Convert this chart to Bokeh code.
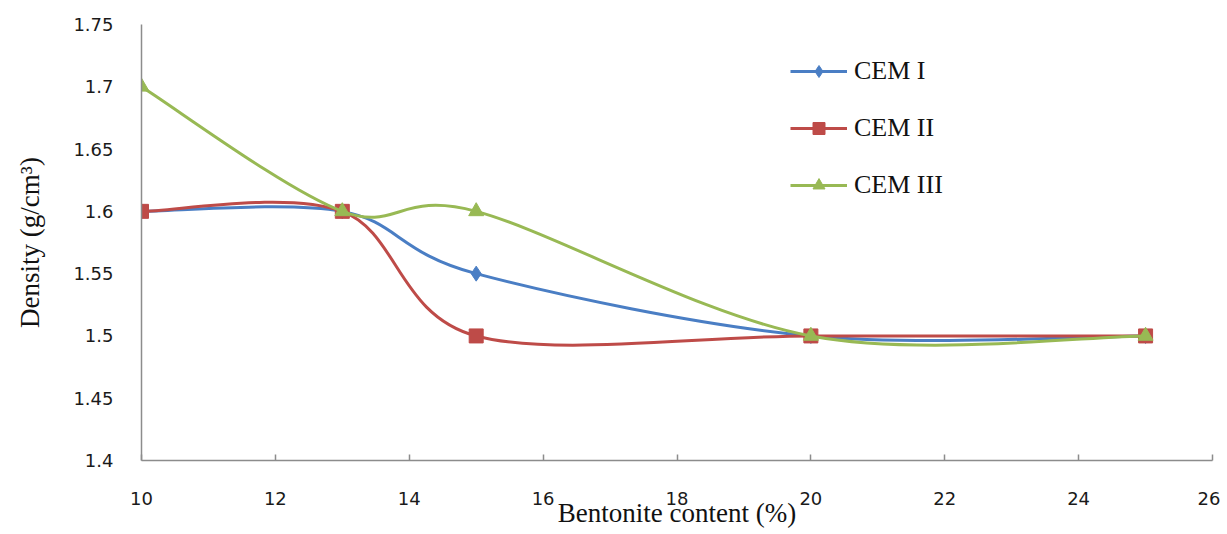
from bokeh.plotting import figure
from bokeh.models import FixedTicker, Legend, LegendItem, ColumnDataSource
from bokeh.embed import file_html
from bokeh.resources import INLINE

x_vals = [10, 13, 15, 20, 25]
cem1 = [1.6, 1.6, 1.55, 1.5, 1.5]
cem2 = [1.6, 1.6, 1.5, 1.5, 1.5]
cem3 = [1.7, 1.6, 1.6, 1.5, 1.5]
series_names = ["CEM I", "CEM II", "CEM III"]
colors = ["#4A7EC4", "#BE4B48", "#98B954"]
markers = ["diamond", "square", "triangle"]
x_ticks = [10, 12, 14, 16, 18, 20, 22, 24, 26]
y_ticks = [1.4, 1.45, 1.5, 1.55, 1.6, 1.65, 1.7, 1.75]
y_tick_labels = ["1.4", "1.45", "1.5", "1.55", "1.6", "1.65", "1.7", "1.75"]

p = figure(width=1220, height=534, x_range=(10, 26), y_range=(1.4, 1.75),
           output_backend="svg", toolbar_location=None,
           min_border_left=141, min_border_right=8, min_border_top=24, min_border_bottom=74)
p.outline_line_color = None
p.xgrid.visible = False
p.ygrid.visible = False
p.background_fill_color = "white"

for ax in (p.xaxis[0], p.yaxis[0]):
    ax.axis_line_color = "#8C8C8C"
    ax.axis_line_width = 1.5
    ax.major_tick_line_color = "#8C8C8C"
    ax.major_tick_line_width = 1.5
    ax.minor_tick_line_color = None
    ax.major_label_text_font = "DejaVu Sans"
    ax.major_label_text_font_size = "18px"
    ax.major_label_text_color = "#1a1a1a"
    ax.axis_label_text_font = "Liberation Serif"
    ax.axis_label_text_font_style = "normal"
    ax.axis_label_text_font_size = "27px"
    ax.axis_label_text_color = "#111111"

p.xaxis.ticker = FixedTicker(ticks=x_ticks)
p.xaxis.major_tick_in = 6
p.xaxis.major_tick_out = 0
p.xaxis.major_label_standoff = 31
p.xaxis.axis_label = "Bentonite content (%)"
p.xaxis.axis_label_standoff = -10

p.yaxis.ticker = FixedTicker(ticks=y_ticks)
p.yaxis.major_label_overrides = {t: l for t, l in zip(y_ticks, y_tick_labels)}
p.yaxis.major_tick_in = 0
p.yaxis.major_tick_out = 0
p.yaxis.major_label_standoff = 28
p.yaxis.axis_label = "Density (g/cm\u00b3)"
p.yaxis.axis_label_standoff = 25


def smooth_segments(xs, ys):
    # Catmull-Rom style smoothing (as in spreadsheet "smoothed line")
    n = len(xs)
    x0, y0, x1, y1, cx0, cy0, cx1, cy1 = [], [], [], [], [], [], [], []
    for i in range(n - 1):
        im = max(i - 1, 0)
        ip2 = min(i + 2, n - 1)
        x0.append(xs[i]); y0.append(ys[i])
        x1.append(xs[i + 1]); y1.append(ys[i + 1])
        cx0.append(xs[i] + (xs[i + 1] - xs[im]) / 6.0)
        cy0.append(ys[i] + (ys[i + 1] - ys[im]) / 6.0)
        cx1.append(xs[i + 1] - (xs[ip2] - xs[i]) / 6.0)
        cy1.append(ys[i + 1] - (ys[ip2] - ys[i]) / 6.0)
    return dict(x0=x0, y0=y0, x1=x1, y1=y1, cx0=cx0, cy0=cy0, cx1=cx1, cy1=cy1)


items = []
for name, ys, c, m in zip(series_names, [cem1, cem2, cem3], colors, markers):
    src = ColumnDataSource(smooth_segments(x_vals, ys))
    b = p.bezier(x0="x0", y0="y0", x1="x1", y1="y1", cx0="cx0", cy0="cy0",
                 cx1="cx1", cy1="cy1", source=src, line_color=c, line_width=3)
    size = 15 if m != "square" else 14
    s = p.scatter(x_vals, ys, marker=m, size=size, fill_color=c, line_color=c)
    items.append(LegendItem(label=name, renderers=[b, s], index=0))

legend = Legend(items=items, location=(649, 260), border_line_color=None,
                background_fill_alpha=0, padding=0, margin=0,
                glyph_width=57, glyph_height=30, spacing=27, label_standoff=7,
                label_text_font="Liberation Serif", label_text_font_size="26px",
                label_text_color="#111111")
p.add_layout(legend, "center")

open("out.html", "w").write(file_html(p, INLINE))
